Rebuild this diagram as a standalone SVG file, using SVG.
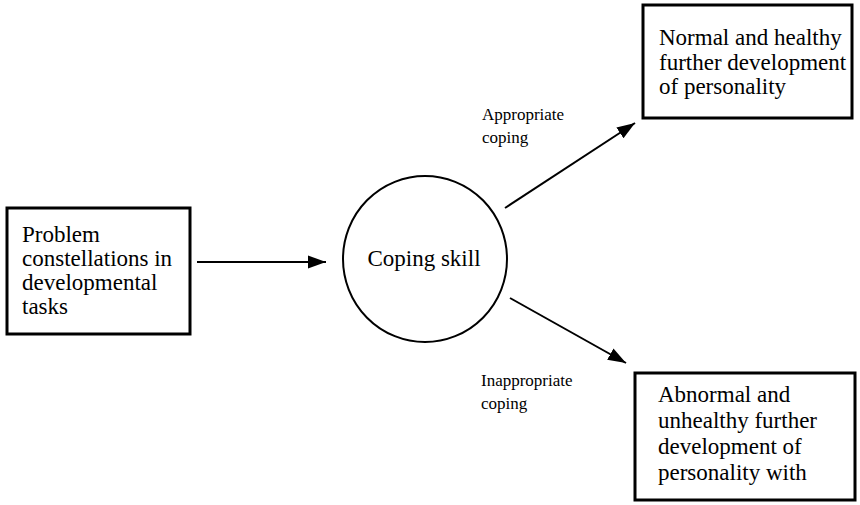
<svg xmlns="http://www.w3.org/2000/svg" width="860" height="505" viewBox="0 0 860 505">
<style>
.box{fill:#fff;stroke:#000;stroke-width:3}
.circ{fill:none;stroke:#000;stroke-width:2}
.t{font-family:"Liberation Serif","Times New Roman",serif;font-size:23px;fill:#000}
.s{font-family:"Liberation Serif","Times New Roman",serif;font-size:17px;fill:#000}
.edge{stroke:#000;stroke-width:2;fill:none;marker-end:url(#ah)}
</style>
<defs>
<marker id="ah" markerUnits="userSpaceOnUse" markerWidth="20" markerHeight="14" refX="18" refY="7" orient="auto">
<path d="M0,0.5 L18,7 L0,13.5 z" fill="#000"/>
</marker>
</defs>
<rect width="860" height="505" fill="#fff"/>
<g id="problem">
<rect class="box" x="7" y="208" width="183" height="126"/>
<text class="t" x="22" y="242">Problem</text>
<text class="t" x="22" y="266">constellations in</text>
<text class="t" x="22" y="290">developmental</text>
<text class="t" x="22" y="314">tasks</text>
</g>
<g id="coping">
<ellipse class="circ" cx="425" cy="259" rx="82" ry="83"/>
<text class="t" x="424" y="266" text-anchor="middle">Coping skill</text>
</g>
<g id="normal">
<rect class="box" x="643" y="5" width="209" height="113"/>
<text class="t" x="659" y="45">Normal and healthy</text>
<text class="t" x="659" y="70">further development</text>
<text class="t" x="659" y="94">of personality</text>
</g>
<g id="abnormal">
<rect class="box" x="635" y="373" width="220" height="127"/>
<text class="t" x="658" y="402">Abnormal and</text>
<text class="t" x="658" y="428">unhealthy further</text>
<text class="t" x="658" y="454">development of</text>
<text class="t" x="658" y="480">personality with</text>
</g>
<g id="connectors">
<line class="edge" x1="197" y1="262" x2="326" y2="262"/>
<line class="edge" x1="505" y1="208" x2="635" y2="123"/>
<line class="edge" x1="510" y1="298" x2="626" y2="363"/>
<text class="s" x="482" y="120">Appropriate</text>
<text class="s" x="482" y="143">coping</text>
<text class="s" x="481" y="386">Inappropriate</text>
<text class="s" x="481" y="409">coping</text>
</g>
</svg>
